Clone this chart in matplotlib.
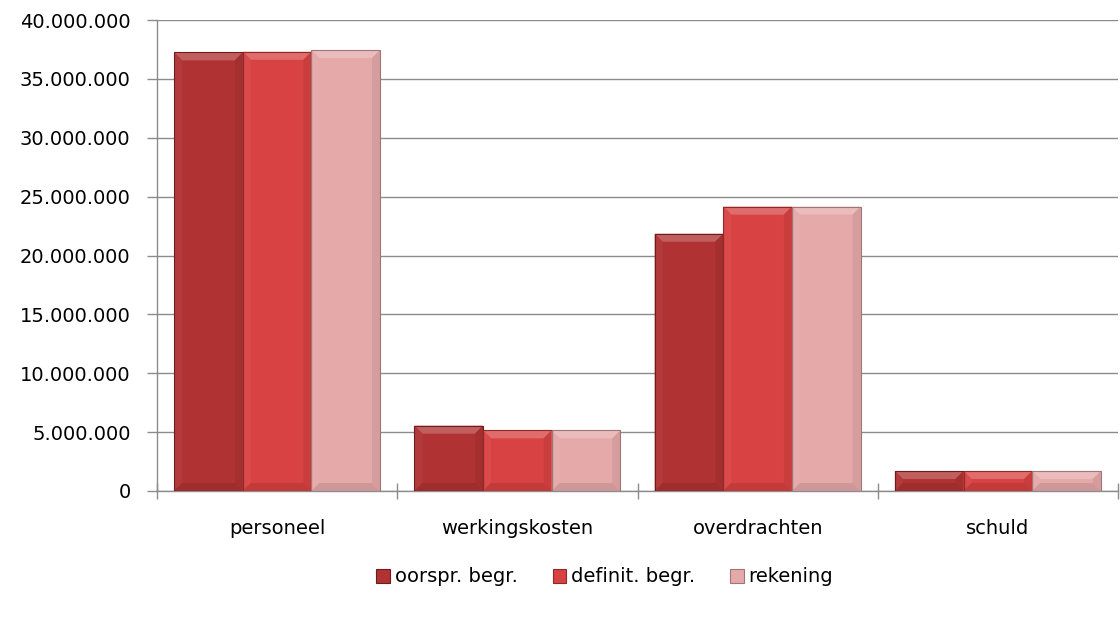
import numpy as np
import matplotlib.pyplot as plt
from matplotlib.patches import Polygon
from matplotlib.ticker import FuncFormatter, FixedLocator
from matplotlib.colors import to_rgb

plt.rcParams['font.family'] = ['DejaVu Sans']

categories = ['personeel', 'werkingskosten', 'overdrachten', 'schuld']
series = ['oorspr. begr.', 'definit. begr.', 'rekening']
oorspr = [37250000, 5550000, 21850000, 1700000]
definit = [37300000, 5150000, 24150000, 1700000]
rekening = [37450000, 5150000, 24150000, 1700000]

colors = ['#B03232', '#D84242', '#E5A9A9']
edges = ['#6E1C1C', '#8E2A2A', '#9E7676']


def shade(c, f):
    r = np.array(to_rgb(c))
    if f > 0:
        return tuple(r + (1 - r) * f)
    return tuple(r * (1 + f))


def bevel(ax, patch, base, bx, by):
    # bevelled faces on top of a bar, sized from the bar itself
    x0, y0 = patch.get_x(), patch.get_y()
    w, h = patch.get_width(), patch.get_height()
    dx = min(bx, w / 2)
    dy = min(by, h / 2)
    x1, y1 = x0 + w, y0 + h
    faces = [
        ([(x0, y1), (x1, y1), (x1 - dx, y1 - dy), (x0 + dx, y1 - dy)], shade(base, 0.22)),
        ([(x0, y0), (x0, y1), (x0 + dx, y1 - dy), (x0 + dx, y0 + dy)], shade(base, 0.04)),
        ([(x1, y0), (x1, y1), (x1 - dx, y1 - dy), (x1 - dx, y0 + dy)], shade(base, -0.07)),
        ([(x0, y0), (x1, y0), (x1 - dx, y0 + dy), (x0 + dx, y0 + dy)], shade(base, -0.1)),
    ]
    for pts, col in faces:
        ax.add_patch(Polygon(pts, closed=True, facecolor=col, edgecolor='none', zorder=4))


fig = plt.figure(figsize=(11.2, 6.19), dpi=100)
ax = fig.add_axes([157 / 1120, 1 - 491 / 619, 961 / 1120, 471 / 619])

x = np.arange(len(categories))
w = 1 / 3.5
bx = 8 / 240
by = 8 / 471 * 40000000
for i, (vals, c, ec) in enumerate(zip([oorspr, definit, rekening], colors, edges)):
    ax.bar(x + (i - 1) * w, vals, width=w, color=c, linewidth=0, zorder=3)
    outline = ax.bar(x + (i - 1) * w, vals, width=w, facecolor='none', edgecolor=ec,
                     linewidth=0.8, zorder=5)
    for p in outline:
        bevel(ax, p, c, bx, by)

ax.set_xlim(-0.5, len(categories) - 0.5)
ax.set_ylim(0, 40000000)
ax.set_yticks(np.arange(0, 40000001, 5000000))
ax.yaxis.set_major_formatter(FuncFormatter(lambda v, p: f'{int(v):,}'.replace(',', '.')))
ax.grid(axis='y', color='#8C8C8C', linewidth=1, zorder=0)

ax.set_xticks(x)
ax.set_xticklabels(categories)
ax.xaxis.set_minor_locator(FixedLocator(np.arange(-0.5, len(categories), 1)))
ax.tick_params(axis='x', which='major', length=0, pad=20, labelsize=14)
ax.tick_params(axis='x', which='minor', length=11, direction='inout', color='#8C8C8C', width=1)
ax.tick_params(axis='y', length=7, color='#8C8C8C', width=1, labelsize=14, pad=12)

for s in ['top', 'right']:
    ax.spines[s].set_visible(False)
for s in ['left', 'bottom']:
    ax.spines[s].set_color('#8C8C8C')
    ax.spines[s].set_linewidth(1)

handles = [plt.Rectangle((0, 0), 1, 1, facecolor=c, edgecolor=ec, linewidth=0.8)
           for c, ec in zip(colors, edges)]
fig.legend(handles, series, loc='center', bbox_to_anchor=(0.54, 1 - 577 / 619), ncol=3,
           frameon=False, fontsize=14, handlelength=0.7, handleheight=0.7,
           handletextpad=0.25, columnspacing=1.8)

fig.savefig('out.png', dpi=100)
